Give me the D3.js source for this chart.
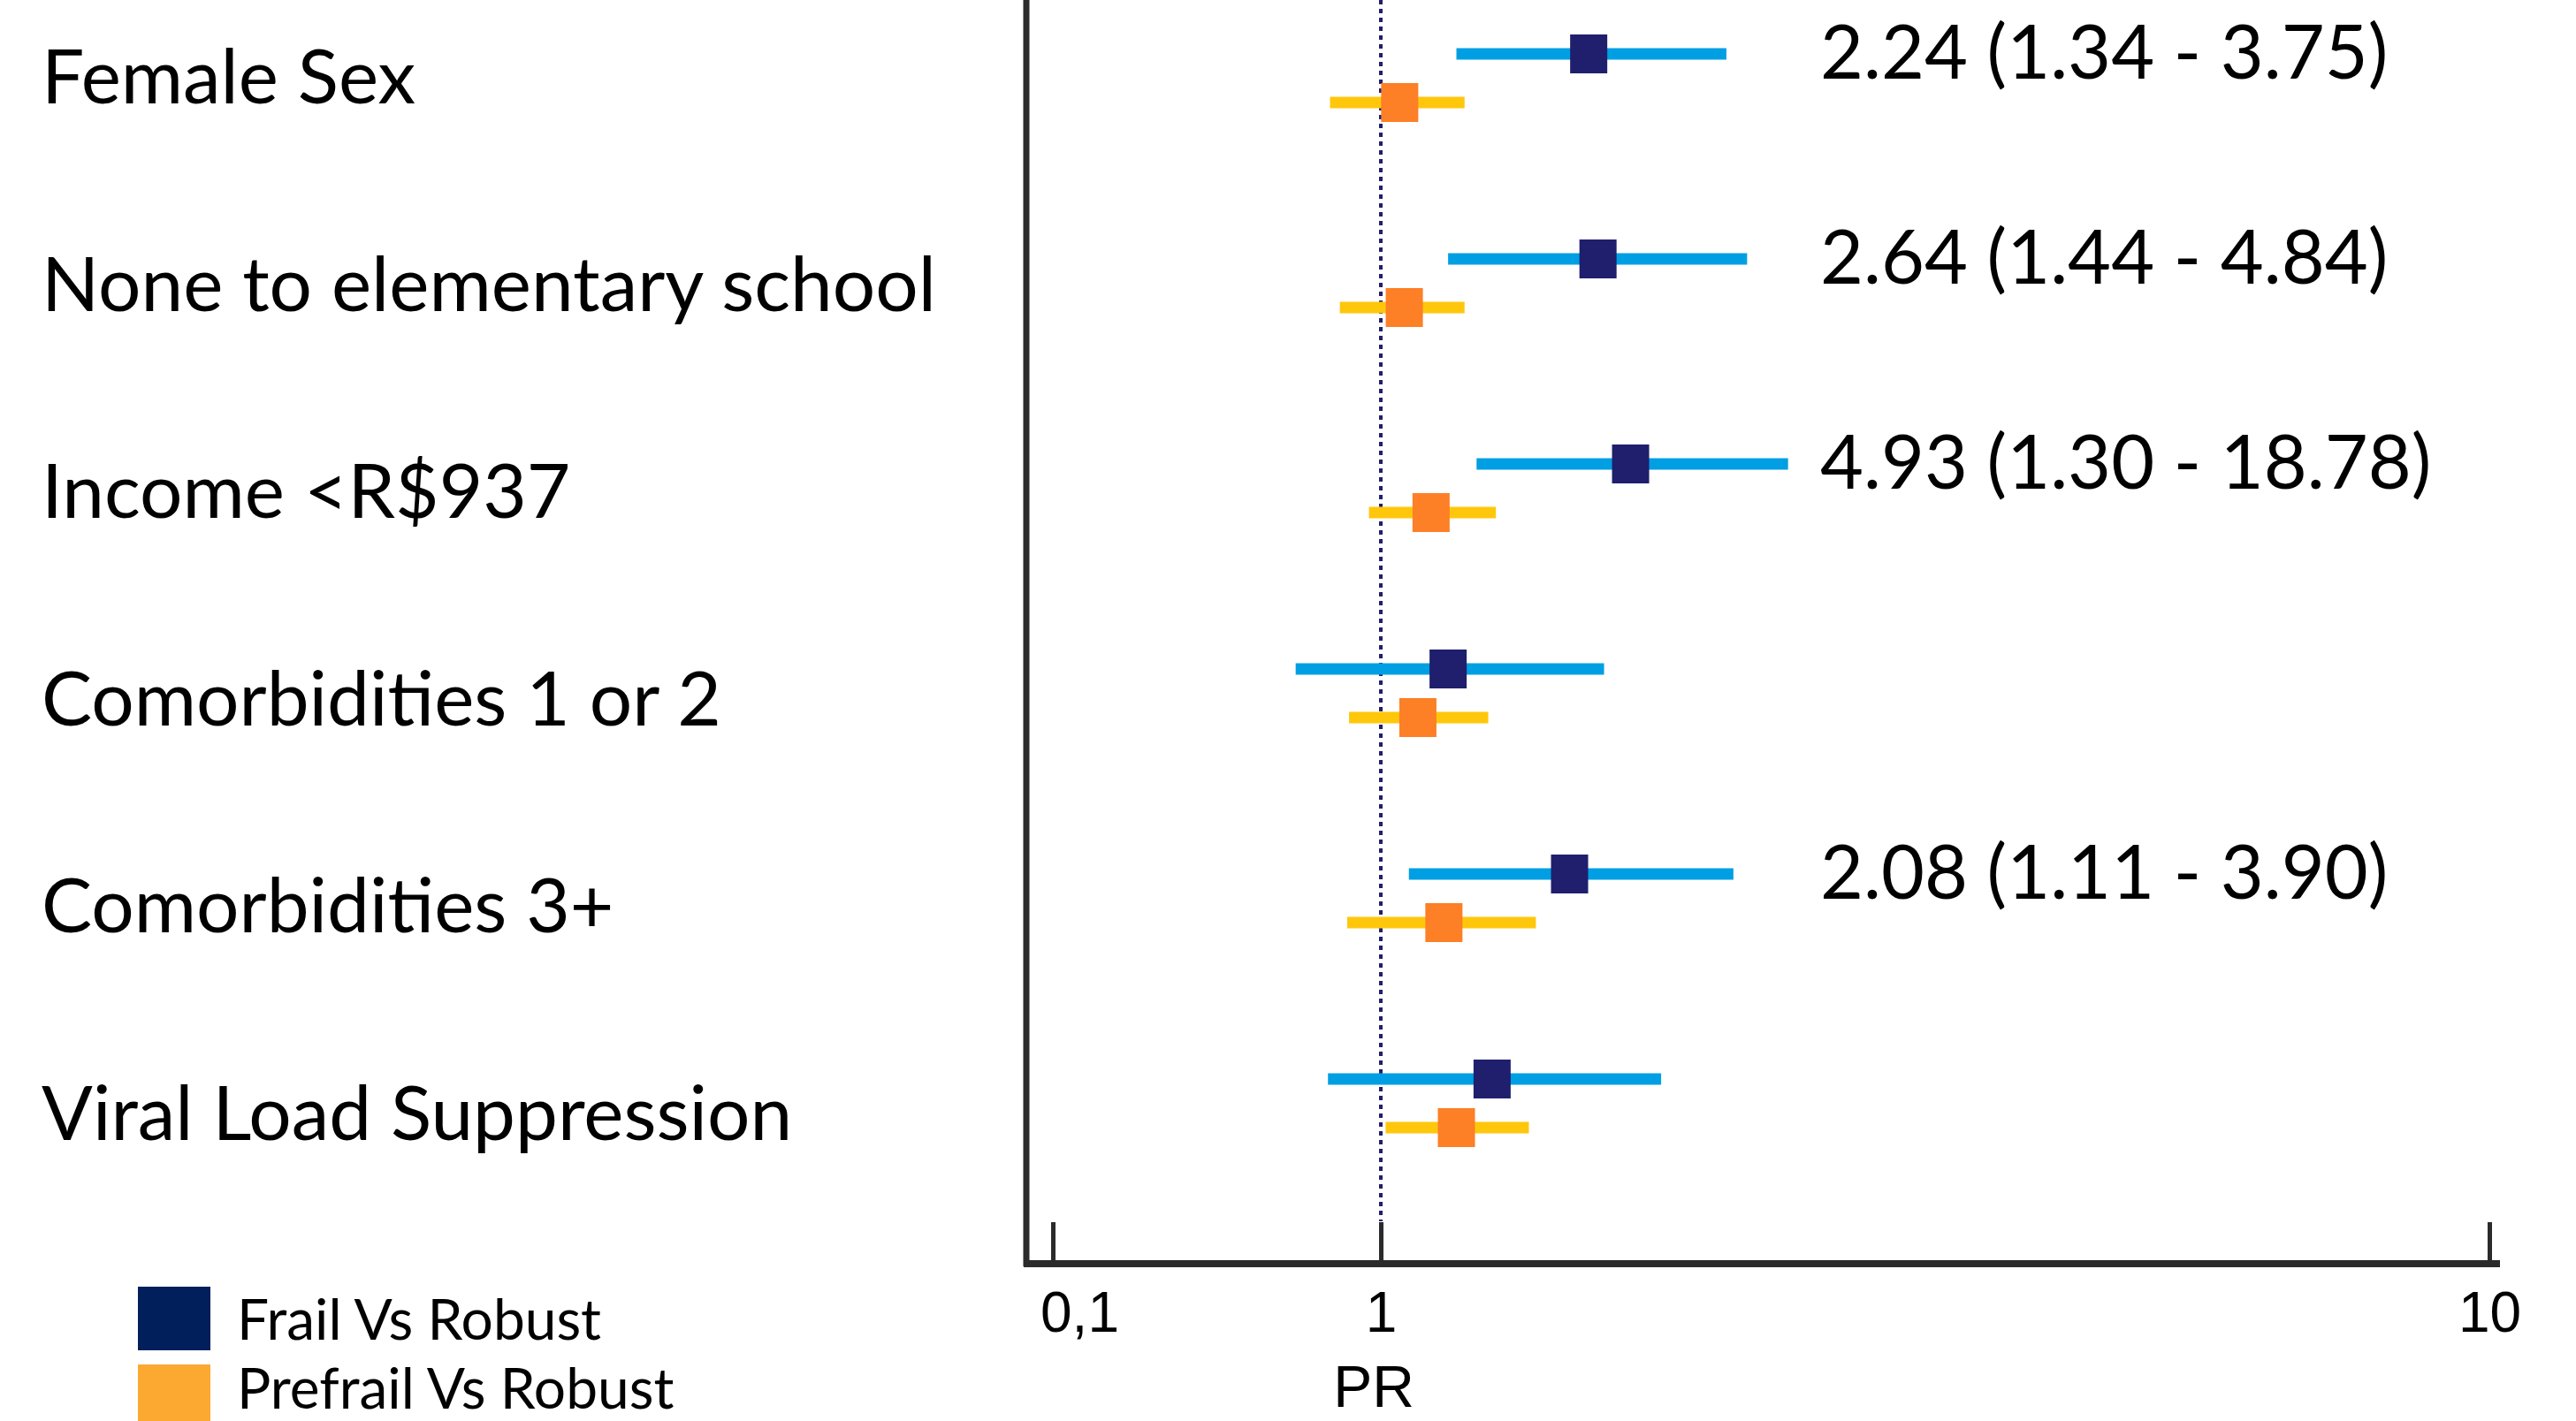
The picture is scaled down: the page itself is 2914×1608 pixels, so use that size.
<!DOCTYPE html>
<html>
<head>
<meta charset="utf-8">
<script src="https://cdn.jsdelivr.net/npm/d3@7"></script>
<style>
  html, body { margin: 0; padding: 0; background: #ffffff; }
  svg { display: block; }
</style>
</head>
<body>
<svg id="chart" width="2914" height="1608"></svg>
<script>
// ---- data ----
const categories = [
  "Female Sex",
  "None to elementary school",
  "Income <R$937",
  "Comorbidities 1 or 2",
  "Comorbidities 3+",
  "Viral Load Suppression"
];
const frailPR   = [1.54, 1.57, 1.68, 1.15, 1.48, 1.26];
const frailLow  = [1.17, 1.15, 1.22, 0.55, 1.06, 0.69];
const frailHigh = [2.05, 2.14, 2.33, 1.59, 2.08, 1.79];
const prefrailPR   = [1.04, 1.05, 1.11, 1.08, 1.14, 1.17];
const prefrailLow  = [0.70, 0.75, 0.92, 0.80, 0.79, 1.01];
const prefrailHigh = [1.19, 1.19, 1.27, 1.25, 1.38, 1.36];
const annotations = ["2.24 (1.34 - 3.75)", "2.64 (1.44 - 4.84)", "4.93 (1.30 - 18.78)", "", "2.08 (1.11 - 3.90)", ""];
const tickValues = [0.1, 1, 10];
const tickLabels = ["0,1", "1", "10"];
const seriesNames = ["Frail Vs Robust", "Prefrail Vs Robust"];
const axisTitle = "PR";

// ---- series table built from the arrays ----
const series = [
  { name: seriesNames[0], pr: frailPR, lo: frailLow, hi: frailHigh, offset: -27,
    lineColor: "#009fe3", boxColor: "#1f1f6e", legendColor: "#011f5b" },
  { name: seriesNames[1], pr: prefrailPR, lo: prefrailLow, hi: prefrailHigh, offset: 28,
    lineColor: "#ffc70c", boxColor: "#fd7f26", legendColor: "#fca932" }
];

const svg = d3.select("#chart");
const labelFont = "Lato, 'Open Sans', sans-serif";
const axisFont = "'Liberation Sans', Arial, sans-serif";

// scales
const x = d3.scaleLog().domain([0.1, 1, 10]).range([1191, 1562, 2816]);
const yLabel = d3.scalePoint().domain(categories).range([87, 1260]);
const y = d3.scalePoint().domain(categories).range([88, 1248]);

const axisY = 1430;
const frameX = 1161;

// category labels
svg.append("g").selectAll("text").data(categories).join("text")
  .attr("x", 47)
  .attr("y", d => yLabel(d) + 30)
  .attr("font-family", labelFont)
  .attr("font-size", 85.5)
  .attr("fill", "#000")
  .text(d => d);

// reference line at PR = 1
svg.append("line")
  .attr("x1", x(1)).attr("x2", x(1))
  .attr("y1", 0).attr("y2", axisY - 48)
  .attr("stroke", "#1f1f6e").attr("stroke-width", 4)
  .attr("stroke-dasharray", "5,5");

// frame: vertical left line
svg.append("line")
  .attr("x1", frameX).attr("x2", frameX)
  .attr("y1", 0).attr("y2", axisY + 3)
  .attr("stroke", "#2b2b2b").attr("stroke-width", 7);

// x axis
const xAxis = d3.axisBottom(x)
  .tickValues(tickValues)
  .tickFormat((d, i) => tickLabels[i])
  .tickSize(-47)
  .tickSizeOuter(0)
  .tickPadding(32);
const gx = svg.append("g").attr("transform", `translate(0,${axisY})`).call(xAxis);
gx.select(".domain").remove();
gx.selectAll(".tick line").attr("stroke", "#2b2b2b").attr("stroke-width", 5);
gx.selectAll(".tick text")
  .attr("font-family", axisFont)
  .attr("font-size", 64)
  .attr("fill", "#000")
  .attr("dx", (d, i) => i === 0 ? 30 : 0);
svg.append("line")
  .attr("x1", frameX - 3).attr("x2", x(10) + 12)
  .attr("y1", axisY).attr("y2", axisY)
  .attr("stroke", "#2b2b2b").attr("stroke-width", 8);

svg.append("text")
  .attr("x", x(1) - 8).attr("y", 1592)
  .attr("text-anchor", "middle")
  .attr("font-family", axisFont)
  .attr("font-size", 66)
  .attr("fill", "#000")
  .text(axisTitle);

// CI lines and point squares
const boxW = 42, boxH = 44;
series.forEach(s => {
  const g = svg.append("g");
  g.selectAll("line").data(categories).join("line")
    .attr("x1", (d, i) => x(s.lo[i]))
    .attr("x2", (d, i) => x(s.hi[i]))
    .attr("y1", d => y(d) + s.offset)
    .attr("y2", d => y(d) + s.offset)
    .attr("stroke", s.lineColor)
    .attr("stroke-width", 13);
  g.selectAll("rect").data(categories).join("rect")
    .attr("x", (d, i) => x(s.pr[i]) - boxW / 2)
    .attr("y", d => y(d) + s.offset - boxH / 2)
    .attr("width", boxW).attr("height", boxH)
    .attr("fill", s.boxColor);
});

// annotations
svg.append("g").selectAll("text").data(categories).join("text")
  .attr("x", 2059)
  .attr("y", d => y(d) + series[0].offset + 28)
  .attr("font-family", labelFont)
  .attr("font-size", 84.5)
  .attr("fill", "#000")
  .text((d, i) => annotations[i]);

// legend
const legend = svg.append("g");
series.forEach((s, i) => {
  legend.append("rect")
    .attr("x", 156).attr("y", 1456 + i * 88)
    .attr("width", 82).attr("height", 72)
    .attr("fill", s.legendColor);
  legend.append("text")
    .attr("x", 268).attr("y", 1516 + i * 78)
    .attr("font-family", labelFont)
    .attr("font-size", 64)
    .attr("fill", "#000")
    .text(s.name);
});
</script>
</body>
</html>
